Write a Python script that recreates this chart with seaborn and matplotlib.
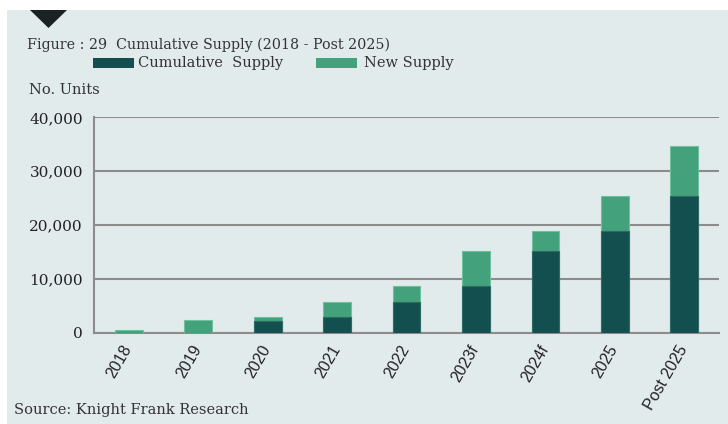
import matplotlib
matplotlib.use("Agg")
import matplotlib.pyplot as plt
from matplotlib.patches import Rectangle, Polygon
from matplotlib.ticker import FuncFormatter
from matplotlib.transforms import ScaledTranslation
import seaborn as sns
import numpy as np

# data
years = ["2018", "2019", "2020", "2021", "2022", "2023f", "2024f", "2025", "Post 2025"]
cumulative = [0, 0, 2230, 2920, 5770, 8680, 15140, 18970, 25300]
total = [450, 2300, 2920, 5770, 8680, 15140, 18970, 25400, 34730]

dark = "#134f4f"
green = "#43a17b"
bg = "#e2ebec"
grid = "#8c8c8c"

sns.set_style("white")
plt.rcParams["font.family"] = ["DejaVu Serif"]

fig = plt.figure(figsize=(7.28, 4.24), dpi=100)
fig.patch.set_facecolor("white")
fig.patches.append(Rectangle((7 / 728, 0), 1, 1 - 10 / 424, transform=fig.transFigure,
                             facecolor=bg, edgecolor="none", zorder=-10))
fig.patches.append(Polygon([[30 / 728, 1 - 10 / 424], [67 / 728, 1 - 10 / 424], [48.5 / 728, 1 - 28 / 424]],
                           closed=True, transform=fig.transFigure, facecolor="#1b2322",
                           edgecolor="none", zorder=-5))

ax = fig.add_axes([94 / 728, 91.3 / 424, 625 / 728, 215.4 / 424])
ax.set_facecolor(bg)

sns.barplot(x=years, y=total, color=green, width=0.4, saturation=1,
            edgecolor="#6fc09c", linewidth=0.8, ax=ax, zorder=3)
sns.barplot(x=years, y=cumulative, color=dark, width=0.4, saturation=1,
            edgecolor="#2f6a66", linewidth=0.8, ax=ax, zorder=4)

ax.set_xlim(-0.5, 8.5)
ax.set_ylim(0, 40000)
ax.set_yticks([0, 10000, 20000, 30000, 40000])
ax.yaxis.set_major_formatter(FuncFormatter(lambda v, p: f"{int(v):,}"))
ax.grid(axis="y", color=grid, linewidth=1.5, zorder=0)
ax.set_axisbelow(True)
ax.set_xlabel("")
ax.set_ylabel("")

for s in ["top", "right"]:
    ax.spines[s].set_visible(False)
for s in ["left", "bottom"]:
    ax.spines[s].set_color(grid)
    ax.spines[s].set_linewidth(1.5)

ax.tick_params(axis="y", length=6, width=1.2, color=grid, labelsize=11, labelcolor="#222222", pad=2)
ax.set_xticks(np.arange(len(years)))
ax.set_xticks(np.arange(-0.5, len(years), 1), minor=True)
ax.tick_params(axis="x", which="major", length=0, pad=7)
ax.tick_params(axis="x", which="minor", length=6, width=1.2, color=grid)
shift = ScaledTranslation(-7 / 100, 0, fig.dpi_scale_trans)
for lbl in ax.get_xticklabels():
    lbl.set_rotation(60)
    lbl.set_ha("right")
    lbl.set_rotation_mode("anchor")
    lbl.set_fontfamily("Liberation Sans")
    lbl.set_fontsize(11.5)
    lbl.set_color("#222222")
    lbl.set_transform(lbl.get_transform() + shift)

fig.text(27 / 728, 1 - 45 / 424, "Figure : 29  Cumulative Supply (2018 - Post 2025)",
         fontsize=10.3, color="#333333", va="center")
fig.patches.append(Rectangle((93 / 728, 1 - 68 / 424), 41 / 728, 10 / 424, transform=fig.transFigure,
                             facecolor=dark, edgecolor="none"))
fig.text(138 / 728, 1 - 63 / 424, "Cumulative  Supply", fontsize=10.5, color="#333333", va="center")
fig.patches.append(Rectangle((316 / 728, 1 - 68 / 424), 41 / 728, 10 / 424, transform=fig.transFigure,
                             facecolor=green, edgecolor="none"))
fig.text(364 / 728, 1 - 63 / 424, "New Supply", fontsize=10.5, color="#333333", va="center")
fig.text(29 / 728, 1 - 90 / 424, "No. Units", fontsize=10.5, color="#333333", va="center")
fig.text(14 / 728, 1 - 410 / 424, "Source: Knight Frank Research", fontsize=10.5, color="#333333", va="center")

fig.savefig("out.png", dpi=100, facecolor=fig.get_facecolor())
